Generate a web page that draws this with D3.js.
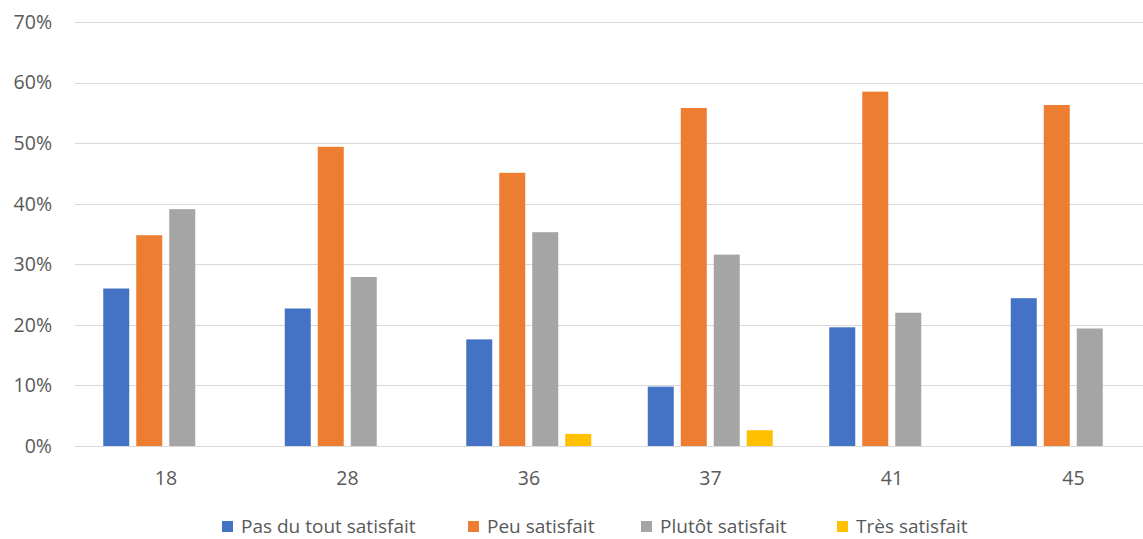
<!DOCTYPE html>
<html>
<head>
<meta charset="utf-8">
<script src="https://cdn.jsdelivr.net/npm/d3@7"></script>
<style>
  html, body { margin: 0; padding: 0; background: #ffffff; }
  svg { display: block; font-family: "Open Sans", "Noto Sans", sans-serif; }
</style>
</head>
<body>
<svg id="chart" width="1143" height="539"></svg>
<script>
const categories = ["18", "28", "36", "37", "41", "45"];
const seriesNames = ["Pas du tout satisfait", "Peu satisfait", "Plutôt satisfait", "Très satisfait"];
const pasDuTout = [26.0, 22.7, 17.6, 9.8, 19.6, 24.4];
const peu = [34.8, 49.4, 45.1, 55.8, 58.5, 56.3];
const plutot = [39.1, 27.9, 35.3, 31.6, 22.0, 19.4];
const tres = [0, 0, 2.0, 2.6, 0, 0];
const yTicks = [0, 10, 20, 30, 40, 50, 60, 70];
const colors = ["#4472C4", "#ED7D31", "#A5A5A5", "#FFC000"];

const seriesValues = [pasDuTout, peu, plutot, tres];

const svg = d3.select("#chart");
const W = 1143, H = 539;
const plotLeft = 75.25, plotRight = 1164.25, plotTop = 22, plotBottom = 446;
const fs = 19.5;
const lfs = 19;

const x0 = d3.scaleBand().domain(categories).range([plotLeft, plotRight]).padding(0);
const x1 = d3.scaleBand().domain(seriesNames).range([28, 153]).paddingInner(7 / 33).paddingOuter(0);
const y = d3.scaleLinear().domain([0, 70]).range([plotBottom, plotTop]);

// gridlines
svg.append("g").selectAll("line").data(yTicks).join("line")
  .attr("x1", 75).attr("x2", W)
  .attr("y1", d => Math.round(y(d)) + 0.5).attr("y2", d => Math.round(y(d)) + 0.5)
  .attr("stroke", "#d9d9d9").attr("stroke-width", 1.2);

// y labels
svg.append("g").selectAll("text").data(yTicks).join("text")
  .attr("x", 52).attr("y", d => y(d))
  .attr("dy", "0.35em")
  .attr("text-anchor", "end")
  .attr("font-size", fs).attr("fill", "#595959")
  .text(d => d + "%");

// bars
const groups = svg.append("g").selectAll("g").data(categories).join("g")
  .attr("transform", d => `translate(${x0(d)},0)`);

groups.selectAll("rect").data((c, i) => seriesNames.map((s, j) => ({ s, j, v: seriesValues[j][i] })))
  .join("rect")
  .attr("x", d => x1(d.s))
  .attr("width", x1.bandwidth())
  .attr("y", d => y(d.v))
  .attr("height", d => y(0) - y(d.v))
  .attr("fill", d => colors[d.j]);

// x labels
svg.append("g").selectAll("text").data(categories).join("text")
  .attr("x", d => x0(d) + x0.bandwidth() / 2)
  .attr("y", 485)
  .attr("text-anchor", "middle")
  .attr("font-size", fs).attr("fill", "#595959")
  .text(d => d);

// legend
const legendX = [222, 468, 641, 837];
const lg = svg.append("g").selectAll("g").data(seriesNames).join("g")
  .attr("transform", (d, i) => `translate(${legendX[i]},521)`);
lg.append("rect").attr("width", 11).attr("height", 11).attr("fill", (d, i) => colors[i]);
lg.append("text").attr("x", 19).attr("y", 5.5).attr("dy", "0.35em")
  .attr("font-size", lfs).attr("fill", "#595959")
  .text(d => d);
</script>
</body>
</html>
